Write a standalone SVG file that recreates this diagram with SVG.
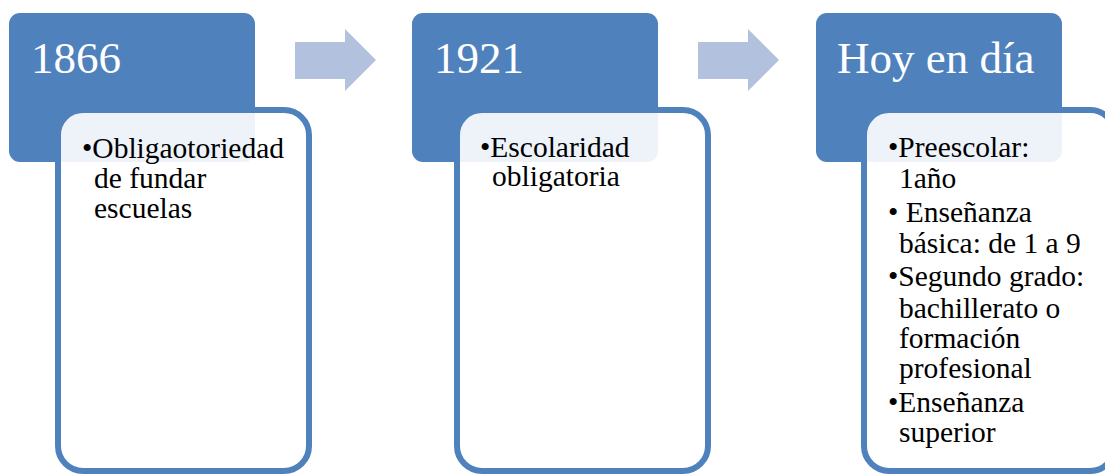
<svg xmlns="http://www.w3.org/2000/svg" width="1105" height="475" viewBox="0 0 1105 475">
  <style>
    .head { fill: #4F81BD; }
    .card { fill: #FFFFFF; fill-opacity: 0.9; stroke: #4F81BD; stroke-width: 6; }
    .year { font-family: "Liberation Serif", "Times New Roman", serif; font-size: 45px; fill: #FFFFFF; }
    .body { font-family: "Liberation Serif", "Times New Roman", serif; font-size: 29.5px; fill: #000000; }
    .arrow { fill: #B1C1DE; }
  </style>
  <rect width="1105" height="475" fill="#FFFFFF"/>

  <g id="connectors">
    <path class="arrow" d="M295,42 H345 V29 L376,60 L345,91 V79 H295 Z"/>
    <path class="arrow" d="M698,42 H748 V29 L779,60 L748,91 V79 H698 Z"/>
  </g>

  <g id="node1">
    <rect class="head" x="9" y="13" width="246" height="149" rx="11"/>
    <text class="year" x="31" y="73">1866</text>
    <rect class="card" x="58" y="110" width="251" height="361" rx="25"/>
    <text class="body">
      <tspan x="82" y="158">•Obligaotoriedad</tspan>
      <tspan x="94" y="188">de fundar</tspan>
      <tspan x="94" y="218">escuelas</tspan>
    </text>
  </g>

  <g id="node2">
    <rect class="head" x="412" y="13" width="246" height="149" rx="11"/>
    <text class="year" x="434" y="73">1921</text>
    <rect class="card" x="457" y="110" width="251" height="361" rx="25"/>
    <text class="body">
      <tspan x="480" y="157">•Escolaridad</tspan>
      <tspan x="492" y="186">obligatoria</tspan>
    </text>
  </g>

  <g id="node3">
    <rect class="head" x="816" y="13" width="246" height="149" rx="11"/>
    <text class="year" x="837" y="73">Hoy en día</text>
    <rect class="card" x="864" y="110" width="251" height="361" rx="25"/>
    <text class="body">
      <tspan x="888" y="157">•Preescolar:</tspan>
      <tspan x="899" y="188">1año</tspan>
      <tspan x="888" y="222">• Enseñanza</tspan>
      <tspan x="899" y="253">básica: de 1 a 9</tspan>
      <tspan x="888" y="286">•Segundo grado:</tspan>
      <tspan x="899" y="318">bachillerato o</tspan>
      <tspan x="899" y="348">formación</tspan>
      <tspan x="899" y="378">profesional</tspan>
      <tspan x="888" y="412">•Enseñanza</tspan>
      <tspan x="899" y="442">superior</tspan>
    </text>
  </g>
</svg>
